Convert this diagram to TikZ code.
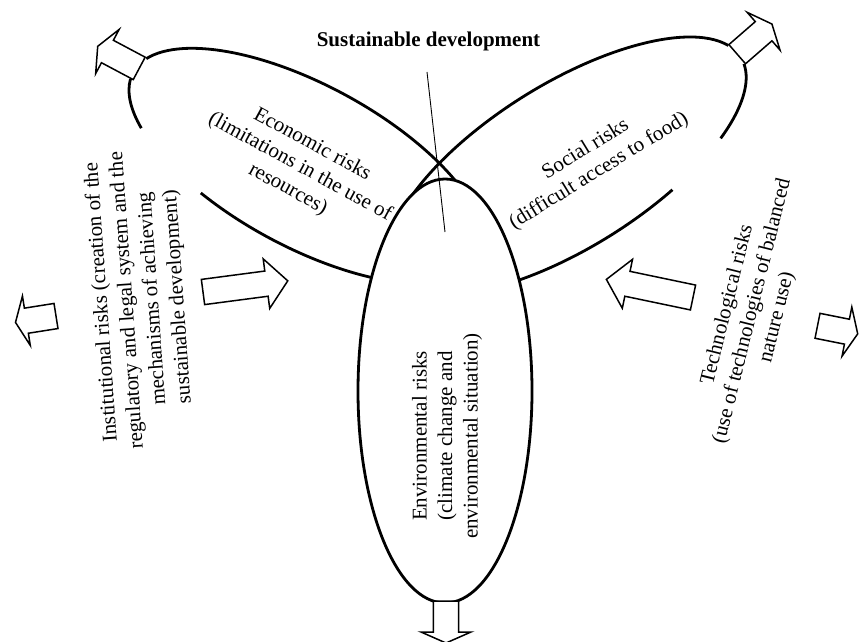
\documentclass[tikz,border=0pt]{standalone}
\usepackage{fontspec}
\setmainfont{Liberation Serif}
\begin{document}
\begin{tikzpicture}[x=1pt,y=1pt,
  ell/.style={line width=2.8pt},
  arrowline/.style={line width=1.5pt, fill=white, line join=miter, miter limit=10},
  thinline/.style={line width=0.9pt},
  lbl/.style={font=\fontsize{21}{25.5}\selectfont, align=center, inner sep=0pt},
  pics/barrow/.style n args={2}{code={\draw[arrowline] (0,-12.7) -- (#1,-12.7) -- (#1,-25) -- ({#1+#2},0) -- (#1,25) -- (#1,12.7) -- (0,12.7) -- cycle;}}
]
\useasboundingbox (0,0) rectangle (859,641);
\coordinate (e1c) at (306.5,475);
\coordinate (e2c) at (567,475);
\coordinate (envc) at (445,250);
% economic ellipse
\begin{scope}[shift={(e1c)}, rotate=-28.4]
  \draw[ell] (246:197 and 81) arc[start angle=246, end angle=527, x radius=197, y radius=81];
  \draw[ell] (185:197 and 81) arc[start angle=185, end angle=214, x radius=197, y radius=81];
\end{scope}
% social ellipse
\begin{scope}[shift={(e2c)}, rotate=32]
  \draw[ell] (11.7:205 and 82) arc[start angle=11.7, end angle=292, x radius=205, y radius=82];
  \draw[ell] (-45:205 and 82) arc[start angle=-45, end angle=-5, x radius=205, y radius=82];
\end{scope}
% environmental ellipse
\draw[ell, fill=white] (envc) ellipse [x radius=87, y radius=212];
% sustainable development line
\coordinate (sd1) at (427,569);
\coordinate (sd2) at (445,409);
\draw[thinline] (sd1) -- (sd2);
% block arrows
\pic[rotate=7.5] at (203,349) {barrow={64}{21.5}};
\pic[rotate=168.2] at (693,343.5) {barrow={67}{21.5}};
\pic[rotate=189] at (56,325) {barrow={30}{11}};
\pic[rotate=-11.3] at (817.5,315.2) {barrow={30}{11}};
\pic[rotate=152] at (139.2,572.6) {barrow={36}{11}};
\pic[rotate=41] at (737.2,586.8) {barrow={35}{11}};
\pic[rotate=-90] at (446,40) {barrow={31}{11}};
% texts
\node[lbl, font=\bfseries\fontsize{21}{25.5}\selectfont, anchor=base] (title) at (428.5,594) {Sustainable development};
\node[lbl, rotate=-28.5] (econ) at (300,474) {Economic risks\\(limitations in the use of\\resources)};
\node[lbl, rotate=31.5] (soc) at (592.4,480.6) {Social risks\\(difficult access to food)};
\node[lbl, rotate=90] (envt) at (447,205) {Environmental risks\\(climate change and\\environmental situation)};
\node[lbl, rotate=94] (inst) at (140,341.4) {Institutional risks (creation of the\\regulatory and legal system and the\\mechanisms of achieving\\sustainable development)};
\node[lbl, rotate=76] (tech) at (752.5,330) {Technological risks\\(use of technologies of balanced\\nature use)};
\end{tikzpicture}
\end{document}
